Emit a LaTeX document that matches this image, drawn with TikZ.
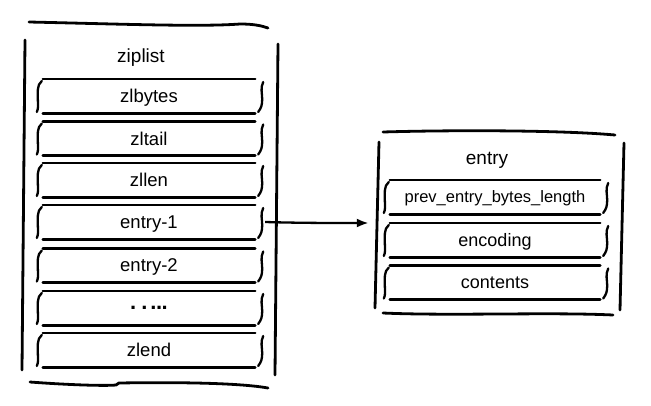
\documentclass[tikz,border=0pt]{standalone}
\usepackage{fontspec}
\setmainfont{Liberation Sans}
\usetikzlibrary{arrows.meta,calc}
\tikzset{
  cell/.style={minimum width=212pt, minimum height=34pt, inner sep=0pt, text depth=0pt, font=\fontsize{18.5}{20}\selectfont},
  smallcell/.style={cell, minimum width=210pt, font=\fontsize{16.5}{18}\selectfont},
  rule/.style={line width=2.6pt, line cap=round},
  brace/.style={line width=2.3pt, line cap=round},
  frame/.style={line width=2.8pt, line cap=round},
  title/.style={font=\fontsize{19}{21}\selectfont, inner sep=0pt},
  arrowline/.style={line width=2.3pt, -{Latex[length=12pt,width=9pt]}},
}
\newcommand\cellframe[1]{%
  \draw[rule] (#1.north west) -- (#1.north east);
  \draw[rule] (#1.south west) -- (#1.south east);
  \draw[brace] ($(#1.west)+(-1,-15)$) .. controls ($(#1.west)+(-6,-11)$) and ($(#1.west)+(-5,-4)$) .. ($(#1.west)+(-5,2)$) .. controls ($(#1.west)+(-5,8)$) and ($(#1.west)+(-4,12)$) .. ($(#1.west)+(-6,16)$);
  \draw[brace] ($(#1.east)+(8,-14)$) .. controls ($(#1.east)+(5,-8)$) and ($(#1.east)+(7,-3)$) .. ($(#1.east)+(7,3)$) .. controls ($(#1.east)+(7,9)$) and ($(#1.east)+(6,12)$) .. ($(#1.east)+(3,16)$);
}
\begin{document}
\begin{tikzpicture}[x=1pt,y=-1pt]
\useasboundingbox (0,0) rectangle (651,405);
% ziplist container
\draw[frame] (29,22) .. controls (120,24) and (200,27) .. (240,24) .. controls (255,24) and (262,26) .. (268,28);
\draw[frame] (30,382) .. controls (70,385) and (105,386) .. (116,385) -- (119,383) .. controls (180,382) and (240,383) .. (268,388);
\draw[frame] (25,40) -- (22,370);
\draw[frame] (278,44) -- (275,375);
\node[title] (ziplist) at (141,58) {ziplist};
\node[cell] (zb) at (149,96) {zlbytes};
\node[cell] (zt) at (149,138.5) {zltail};
\node[cell] (zl) at (149,180) {zllen};
\node[cell] (e1) at (149,222) {entry-1};
\node[cell] (e2) at (149,265.5) {entry-2};
\node[cell, font=\fontsize{22}{24}\selectfont\bfseries] (dt) at (149,308) {.\hspace{5pt}.\hspace{3pt}.\hspace{-0.5pt}.\hspace{-0.5pt}.};
\node[cell] (ze) at (149,350) {zlend};
\foreach \c in {zb,zt,zl,e1,e2,dt,ze}{\cellframe{\c}}
% entry container
\draw[frame] (383,132) .. controls (450,130) and (560,130) .. (615,135);
\draw[frame] (383,313) .. controls (450,316) and (550,312) .. (613,315);
\draw[frame] (379,142) -- (375,308);
\draw[frame] (624,143) -- (620,310);
\node[inner sep=0pt, minimum width=245pt, minimum height=180pt] (entrybox) at (499.5,222) {};
\node[title] (entry) at (487,160) {entry};
\node[smallcell] (pe) at (495,197) {prev\_entry\_bytes\_length};
\node[smallcell, font=\fontsize{18}{20}\selectfont] (en) at (495,240) {encoding};
\node[smallcell, font=\fontsize{18}{20}\selectfont] (co) at (495,282.5) {contents};
\foreach \c in {pe,en,co}{\cellframe{\c}}
% arrow
\draw[arrowline] ([xshift=10pt]e1.east) .. controls +(35,1) and +(-40,0) .. ([xshift=-8pt,yshift=-1pt]entrybox.west);
\end{tikzpicture}
\end{document}
